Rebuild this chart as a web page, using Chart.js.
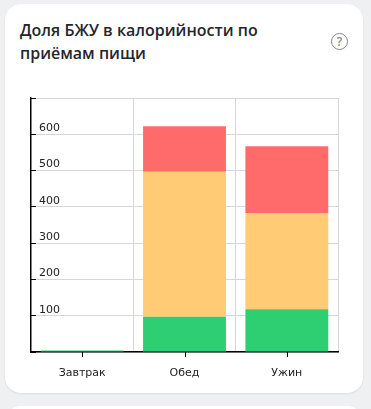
<!DOCTYPE html>
<html lang="ru">
<head>
    <meta charset="UTF-8">
    <title>Доля БЖУ</title>
    <script src="https://cdn.jsdelivr.net/npm/chart.js"></script>
    <style>
        html, body {
            margin: 0;
            height: 100%;
            overflow: hidden;
            background: #eef0f2;
        }

        .card {
            position: absolute;
            left: 5px;
            top: 4px;
            width: 358px;
            height: 389px;
            background: #fff;
            border-radius: 16px;
            box-shadow: 0 1px 2px rgba(0, 0, 0, 0.08);
        }

        .next-card {
            position: absolute;
            left: 5px;
            top: 406px;
            width: 358px;
            height: 40px;
            background: #fff;
            border-radius: 16px;
        }

        h1 {
            position: absolute;
            left: 15px;
            top: 15px;
            width: 290px;
            margin: 0;
            font: 600 16px/23px 'Open Sans', sans-serif;
            color: #25262b;
        }

        .help {
            position: absolute;
            left: 326px;
            top: 29px;
            width: 15px;
            height: 15px;
            border: 1.5px solid #85878c;
            border-radius: 50%;
            font: 600 12px/15px 'Open Sans', sans-serif;
            color: #85878c;
            text-align: center;
        }

        canvas {
            position: absolute;
            left: 20px;
            top: 90px;
        }
    </style>
</head>
<body>
    <div class="card">
        <h1>Доля БЖУ в калорийности по приёмам пищи</h1>
        <div class="help">?</div>
    </div>
    <div class="next-card"></div>
    <canvas id="macroChart" width="330" height="295"></canvas>

    <script>
        const meals = ['Завтрак', 'Обед', 'Ужин'];
        const protein = [4, 97, 118];
        const fat = [0, 400, 265];
        const carbs = [0, 125, 184];
        const yTicks = [100, 200, 300, 400, 500, 600];

        // x axis tick marks sit under the bars, gridlines between them
        const centerTicks = {
            id: 'centerTicks',
            afterDraw(chart) {
                const x = chart.scales.x;
                const ctx = chart.ctx;
                ctx.save();
                ctx.strokeStyle = '#000';
                ctx.lineWidth = 1;
                meals.forEach((meal, i) => {
                    const px = Math.round(x.getPixelForValue(i)) + 0.5;
                    ctx.beginPath();
                    ctx.moveTo(px, x.top);
                    ctx.lineTo(px, x.top + 5);
                    ctx.stroke();
                });
                ctx.restore();
            }
        };

        new Chart(document.getElementById('macroChart'), {
            type: 'bar',
            data: {
                labels: meals,
                datasets: [
                    { label: 'Белки', data: protein, backgroundColor: '#2ecf72' },
                    { label: 'Углеводы', data: fat, backgroundColor: '#ffcc75' },
                    { label: 'Жиры', data: carbs, backgroundColor: '#ff6b6b' }
                ]
            },
            plugins: [centerTicks],
            options: {
                responsive: false,
                animation: false,
                categoryPercentage: 0.9,
                barPercentage: 0.9,
                layout: { padding: { top: 8, right: 12, bottom: 0, left: 0 } },
                plugins: { legend: { display: false }, tooltip: { enabled: false } },
                scales: {
                    x: {
                        stacked: true,
                        afterFit: (scale) => { scale.height = 33; },
                        border: { color: '#000', width: 1.5 },
                        grid: { color: '#d6d6d6', drawTicks: false },
                        ticks: { color: '#222', padding: 15, font: { family: 'DejaVu Sans', size: 11 } }
                    },
                    y: {
                        stacked: true,
                        min: 0,
                        max: 700,
                        afterFit: (scale) => {
                            scale.width = 11;
                            scale.paddingTop = 0;
                            scale.paddingBottom = 0;
                        },
                        afterBuildTicks: (scale) => {
                            scale.ticks = [0, ...yTicks, 700].map((value) => ({ value }));
                        },
                        border: { color: '#000', width: 1.5 },
                        grid: { color: '#d6d6d6', tickColor: '#000', tickLength: -5 },
                        ticks: {
                            mirror: true,
                            padding: 8,
                            labelOffset: -6,
                            color: '#222',
                            font: { family: 'DejaVu Sans', size: 11 },
                            callback: (value) => (yTicks.includes(value) ? value : '')
                        }
                    }
                }
            }
        });
    </script>
</body>
</html>
